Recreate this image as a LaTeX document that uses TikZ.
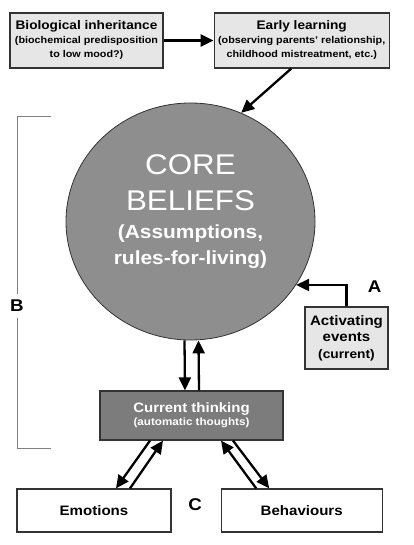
\documentclass[tikz,border=0pt]{standalone}
\usepackage{fontspec}
\setmainfont[FakeStretch=1.1]{Liberation Sans}
\usepackage{tikz}
\usetikzlibrary{arrows.meta,positioning,shapes.geometric}
\definecolor{boxgray}{HTML}{E6E6E6}
\definecolor{coregray}{HTML}{8E8E8E}
\definecolor{thinkgray}{HTML}{7C7C7C}
\definecolor{edgegray}{HTML}{333333}

\begin{document}
\begin{tikzpicture}[x=1pt,y=-1pt,>={Triangle[length=13pt,width=12pt]},node distance=50pt,font=\bfseries]
  \tikzstyle{block}=[draw=edgegray,line width=1.2pt,fill=boxgray,align=center,inner sep=2pt]
  \tikzstyle{flow}=[->,line width=2.3pt]
  \tikzstyle{letter}=[font=\bfseries\fontsize{17}{20}\selectfont,inner sep=1pt]
  \useasboundingbox (0,0) rectangle (414,545);
  % origins
  \node[block,minimum width=153pt,minimum height=55pt,font=\bfseries\fontsize{9.8}{14}\selectfont] (bio) at (86.5,40.5)
    {{\fontsize{12.4}{15}\selectfont Biological inheritance}\\(biochemical predisposition\\to low mood?)};
  \node[block,minimum width=175pt,minimum height=55pt,font=\bfseries\fontsize{9.8}{14}\selectfont,right=50pt of bio] (early)
    {{\fontsize{12.4}{15}\selectfont Early learning}\\(observing parents' relationship,\\childhood mistreatment, etc.)};
  % core beliefs
  \node[ellipse,draw=edgegray,line width=0.8pt,fill=coregray,minimum width=249pt,minimum height=237pt] (core) at (190.5,221.5) {};
  \node[text=white,align=center,font=\bfseries\fontsize{19}{26}\selectfont] (coretext) at (190.5,212)
    {{\mdseries\fontsize{28.5}{36}\selectfont CORE}\\[10pt]{\mdseries\fontsize{28.5}{36}\selectfont BELIEFS}\\[2pt](Assumptions,\\rules-for-living)};
  \node[block,minimum width=83pt,minimum height=62pt,font=\bfseries\fontsize{13.7}{16.5}\selectfont] (act) at (346.5,338)
    {Activating\\events\\{\fontsize{12.5}{15}\selectfont (current)}};
  % current thinking and responses
  \node[block,fill=thinkgray,text=white,minimum width=183pt,minimum height=49pt,font=\bfseries\fontsize{10.6}{13}\selectfont] (think) at (191.5,415.5)
    {{\fontsize{13.6}{16}\selectfont Current thinking}\\(automatic thoughts)};
  \node[block,fill=white,minimum width=154pt,minimum height=43pt,font=\bfseries\fontsize{13.7}{16}\selectfont] (emo) at (94,510.5) {Emotions};
  \node[block,fill=white,minimum width=161pt,minimum height=43pt,font=\bfseries\fontsize{13.7}{16}\selectfont,right=49pt of emo] (beh) {Behaviours};
  % bracket B
  \draw[gray,line width=1pt] (51,117) -- (17,117) -- (17,448) -- (51,448);
  \node[letter,fill=white,inner ysep=6pt] (blab) at (17,306) {B};
  \node[letter] (alab) at (374.5,287) {A};
  \node[letter] (clab) at (195,505) {C};
  % arrows
  \draw[flow] (bio) -- (early);
  \draw[flow] ([xshift=-10.5pt]early.south) -- (core.65);
  \draw[flow] (act.north) |- (core.-31);
  \draw[flow] ([xshift=-6pt]core.south) -- ([xshift=-6.5pt]think.north);
  \draw[flow] ([xshift=7.5pt]think.north) -- ([xshift=8pt]core.south);
  \draw[flow] ([xshift=-41.5pt]think.south) -- ([xshift=22pt]emo.north);
  \draw[flow] ([xshift=36pt]emo.north) -- ([xshift=-28.5pt]think.south);
  \draw[flow] ([xshift=-45.5pt]beh.north) -- ([xshift=29.5pt]think.south);
  \draw[flow] ([xshift=41.5pt]think.south) -- ([xshift=-32.5pt]beh.north);
\end{tikzpicture}
\end{document}
